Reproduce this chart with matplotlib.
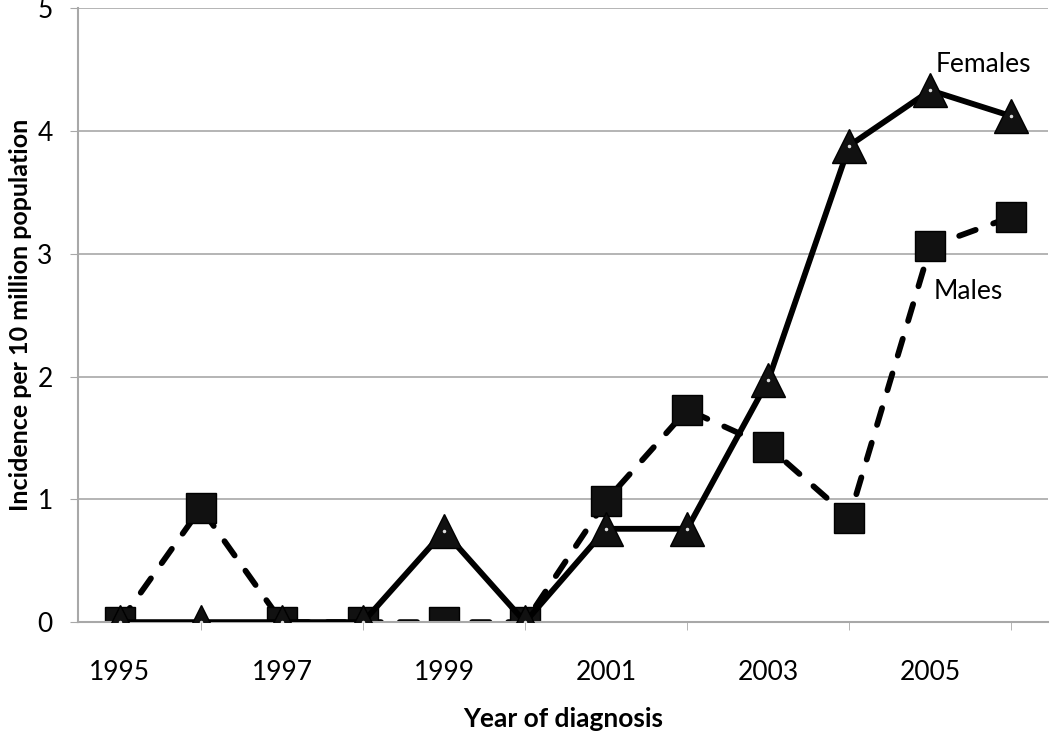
import numpy as np
import matplotlib.pyplot as plt

#data
years = np.arange(1995, 2007)
females = [0, 0, 0, 0, 0.74, 0, 0.76, 0.76, 1.97, 3.88, 4.33, 4.12]
males = [0, 0.93, 0, 0, 0, 0, 0.99, 1.73, 1.43, 0.85, 3.06, 3.30]
major_years = [1995, 1997, 1999, 2001, 2003, 2005]

plt.rcParams['font.family'] = ['Lato', 'DejaVu Sans']

fig = plt.figure(figsize=(10.5, 7.38), dpi=100)
ax = fig.add_axes([0.074, 0.157, 0.924, 0.832])

#gridlines
ax.set_yticks([0, 1, 2, 3, 4, 5])
ax.yaxis.grid(True, color='#a8a8a8', linewidth=1.2)
ax.set_axisbelow(True)

#males behind females
ax.plot(years, males, color='black', linestyle=(0, (3.0, 3.2)), linewidth=4.2,
        dash_capstyle='round', marker='s', markersize=22, markerfacecolor='#111111', zorder=2)
ax.plot(years, females, color='black', linestyle='-', linewidth=4.2,
        marker='^', markersize=25, markerfacecolor='#111111', zorder=3)
#tiny light dots inside markers
ax.plot(years, females, linestyle='none', marker='.', markersize=3, color='#dddddd', zorder=4)

ax.text(2005.65, 4.54, 'Females', fontsize=19, ha='center', va='center')
ax.text(2005.47, 2.69, 'Males', fontsize=19, ha='center', va='center')

ax.set_xlim(1994.48, 2006.45)
ax.set_ylim(0, 5)
ax.set_xticks(major_years)
ax.set_xticks(years, minor=True)
ax.tick_params(axis='x', which='major', labelsize=19, length=0, pad=27, colors='black')
ax.tick_params(axis='x', which='minor', length=6, color='#a8a8a8', direction='out')
ax.tick_params(axis='y', labelsize=19, length=6, color='#a8a8a8', pad=12)

for side in ['top', 'right']:
    ax.spines[side].set_visible(False)
ax.spines['left'].set_color('#a8a8a8')
ax.spines['left'].set_linewidth(1.5)
ax.spines['bottom'].set_color('#a8a8a8')
ax.spines['bottom'].set_linewidth(1.5)

ax.set_xlabel('Year of diagnosis', fontsize=19, fontweight='bold', labelpad=16)
ax.set_ylabel('Incidence per 10 million population', fontsize=18, fontweight='bold', labelpad=4)

fig.savefig('out.png', dpi=100)
